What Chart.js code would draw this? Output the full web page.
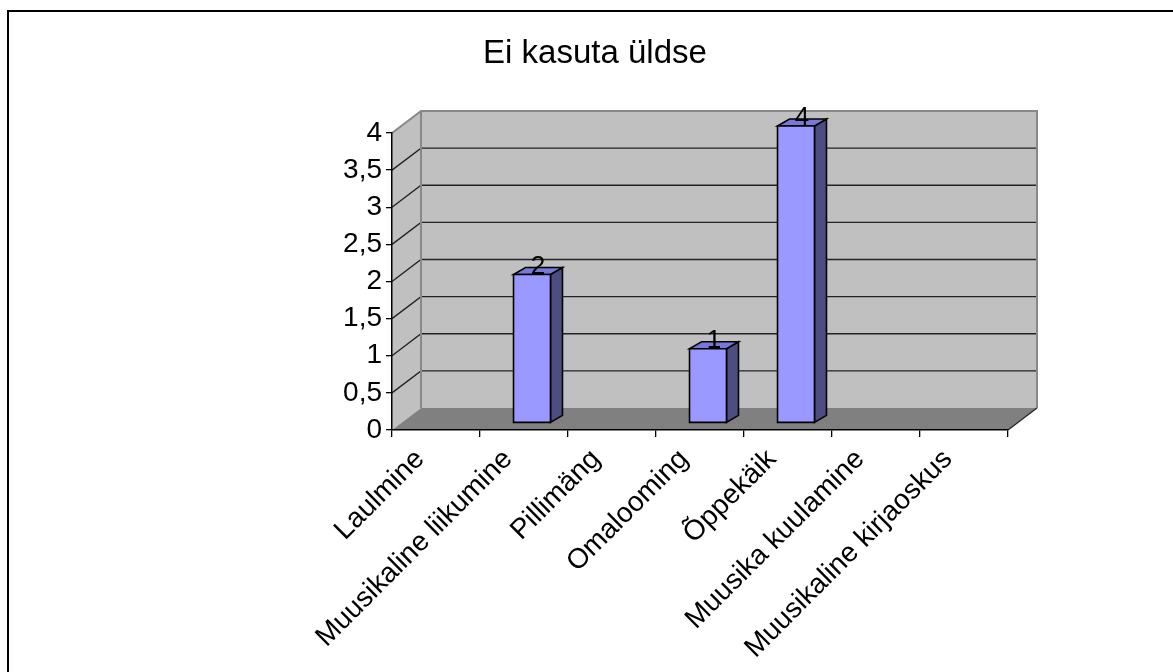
<!DOCTYPE html>
<html>
<head>
<meta charset="utf-8">
<script src="https://cdn.jsdelivr.net/npm/chart.js@4.4.1/dist/chart.umd.min.js"></script>
<style>
html, body { margin: 0; padding: 0; background: #fff; overflow: hidden; }
#wrap { position: relative; width: 1173px; height: 672px; overflow: hidden; }
#frame { position: absolute; left: 7px; top: 10px; width: 1300px; height: 800px; border-left: 2px solid #000; border-top: 2px solid #000; }
canvas { position: absolute; left: 0; top: 0; }
</style>
</head>
<body>
<div id="wrap">
    <div id="frame"></div>
    <canvas id="chart" width="1173" height="672"></canvas>
</div>
<script>
// Excel-style 3D column chart: "Ei kasuta üldse"
const categories = ['Laulmine', 'Muusikaline liikumine', 'Pillimäng', 'Omalooming', 'Õppekäik', 'Muusika kuulamine', 'Muusikaline kirjaoskus'];
const values = [null, 2, null, 1, 4, null, null];
const yTicks = { min: 0, max: 4, step: 0.5 };
const title = 'Ei kasuta üldse';

const FONT = "'Liberation Sans', Arial, sans-serif";
const WALL_DEPTH = { x: 29, y: -22 };   // back wall offset from front plane
const BAR_FRONT = { x: 8, y: -7 };      // where the column's front face sits
const BAR_DEPTH = { x: 12, y: -7 };     // column thickness

function poly(ctx, pts, fill, stroke, lw) {
    ctx.beginPath();
    ctx.moveTo(pts[0][0], pts[0][1]);
    for (let i = 1; i < pts.length; i++) ctx.lineTo(pts[i][0], pts[i][1]);
    ctx.closePath();
    if (fill) { ctx.fillStyle = fill; ctx.fill(); }
    if (stroke) { ctx.strokeStyle = stroke; ctx.lineWidth = lw || 1; ctx.stroke(); }
}

const wallsPlugin = {
    id: 'walls',
    beforeDraw(chart) {
        const { ctx, chartArea: a, scales: { y } } = chart;
        const dx = WALL_DEPTH.x, dy = WALL_DEPTH.y;
        ctx.save();
        // back wall
        poly(ctx, [[a.left + dx, a.top + dy], [a.right + dx, a.top + dy], [a.right + dx, a.bottom + dy], [a.left + dx, a.bottom + dy]], '#c0c0c0');
        // side wall
        poly(ctx, [[a.left, a.top], [a.left + dx, a.top + dy], [a.left + dx, a.bottom + dy], [a.left, a.bottom]], '#c0c0c0');
        // floor
        poly(ctx, [[a.left, a.bottom], [a.right, a.bottom], [a.right + dx, a.bottom + dy], [a.left + dx, a.bottom + dy]], '#808080');

        // gridlines
        y.ticks.forEach(t => {
            const py = y.getPixelForValue(t.value);
            if (t.value === yTicks.min || t.value === yTicks.max) return;
            ctx.beginPath();
            ctx.moveTo(a.left, py);
            ctx.lineTo(a.left + dx, py + dy);
            ctx.lineTo(a.right + dx, py + dy);
            ctx.strokeStyle = '#222';
            ctx.lineWidth = 1.3;
            ctx.stroke();
        });
        // wall edges
        ctx.beginPath();
        ctx.moveTo(a.left, a.top);
        ctx.lineTo(a.left + dx, a.top + dy);
        ctx.lineTo(a.right + dx, a.top + dy);
        ctx.lineTo(a.right + dx, a.bottom + dy);
        ctx.moveTo(a.left + dx, a.top + dy);
        ctx.lineTo(a.left + dx, a.bottom + dy);
        ctx.strokeStyle = '#888';
        ctx.lineWidth = 2;
        ctx.stroke();
        // floor right edge
        ctx.beginPath();
        ctx.moveTo(a.right, a.bottom);
        ctx.lineTo(a.right + dx, a.bottom + dy);
        ctx.strokeStyle = '#222';
        ctx.lineWidth = 1.2;
        ctx.stroke();
        ctx.restore();
    }
};

const columnsPlugin = {
    id: 'columns',
    afterDatasetsDraw(chart) {
        const { ctx } = chart;
        const meta = chart.getDatasetMeta(0);
        ctx.save();
        ctx.lineJoin = 'miter';
        meta.data.forEach((bar, i) => {
            if (values[i] == null) return;
            const p = bar.getProps(['x', 'y', 'base', 'width'], true);
            const l = p.x - p.width / 2 + BAR_FRONT.x;
            const r = l + p.width;
            const t = p.y + BAR_FRONT.y;
            const b = p.base + BAR_FRONT.y;
            const ddx = BAR_DEPTH.x, ddy = BAR_DEPTH.y;
            poly(ctx, [[r, t], [r + ddx, t + ddy], [r + ddx, b + ddy], [r, b]], '#4d4d82', '#000', 1.6);
            poly(ctx, [[l, t], [r, t], [r + ddx, t + ddy], [l + ddx, t + ddy]], '#7878d6', '#000', 1.6);
            poly(ctx, [[l, t], [r, t], [r, b], [l, b]], '#9999ff', '#000', 1.6);

            ctx.fillStyle = '#000';
            ctx.font = `26px ${FONT}`;
            ctx.textAlign = 'center';
            ctx.textBaseline = 'alphabetic';
            ctx.fillText(String(values[i]), (l + r) / 2 + ddx / 2, t - 1);
        });
        ctx.restore();
    }
};

new Chart(document.getElementById('chart'), {
    type: 'bar',
    data: {
        labels: categories,
        datasets: [{
            data: values,
            backgroundColor: 'rgba(0,0,0,0)',
            borderWidth: 0,
            categoryPercentage: 1,
            barPercentage: 0.42
        }]
    },
    options: {
        responsive: false,
        animation: false,
        devicePixelRatio: 1,
        layout: { padding: { left: 182, right: 165, top: 0, bottom: 0 } },
        plugins: {
            legend: { display: false },
            tooltip: { enabled: false },
            title: {
                display: true,
                text: title,
                color: '#000',
                font: { family: FONT, size: 33, weight: 'normal', lineHeight: 1.2 },
                padding: { top: 34, bottom: 59.4 }
            }
        },
        scales: {
            x: {
                offset: true,
                grid: { offset: true, drawOnChartArea: false, drawTicks: true, tickLength: 7, color: '#000', lineWidth: 1.3 },
                border: { display: true, color: '#000', width: 1.5 },
                ticks: { autoSkip: false, minRotation: 45, maxRotation: 45, padding: 6, labelOffset: -16, color: '#000', font: { family: FONT, size: 28 } },
                afterFit: s => { s.height = 242; }
            },
            y: {
                min: yTicks.min,
                max: yTicks.max,
                grid: { drawOnChartArea: false, drawTicks: true, tickLength: 6, color: '#000', lineWidth: 1.3 },
                border: { display: true, color: '#000', width: 1.5 },
                ticks: {
                    stepSize: yTicks.step,
                    padding: 4,
                    color: '#000',
                    font: { family: FONT, size: 28 },
                    callback: v => String(v).replace('.', ',')
                },
                afterFit: s => { s.width = 210; }
            }
        }
    },
    plugins: [wallsPlugin, columnsPlugin]
});
</script>
</body>
</html>
